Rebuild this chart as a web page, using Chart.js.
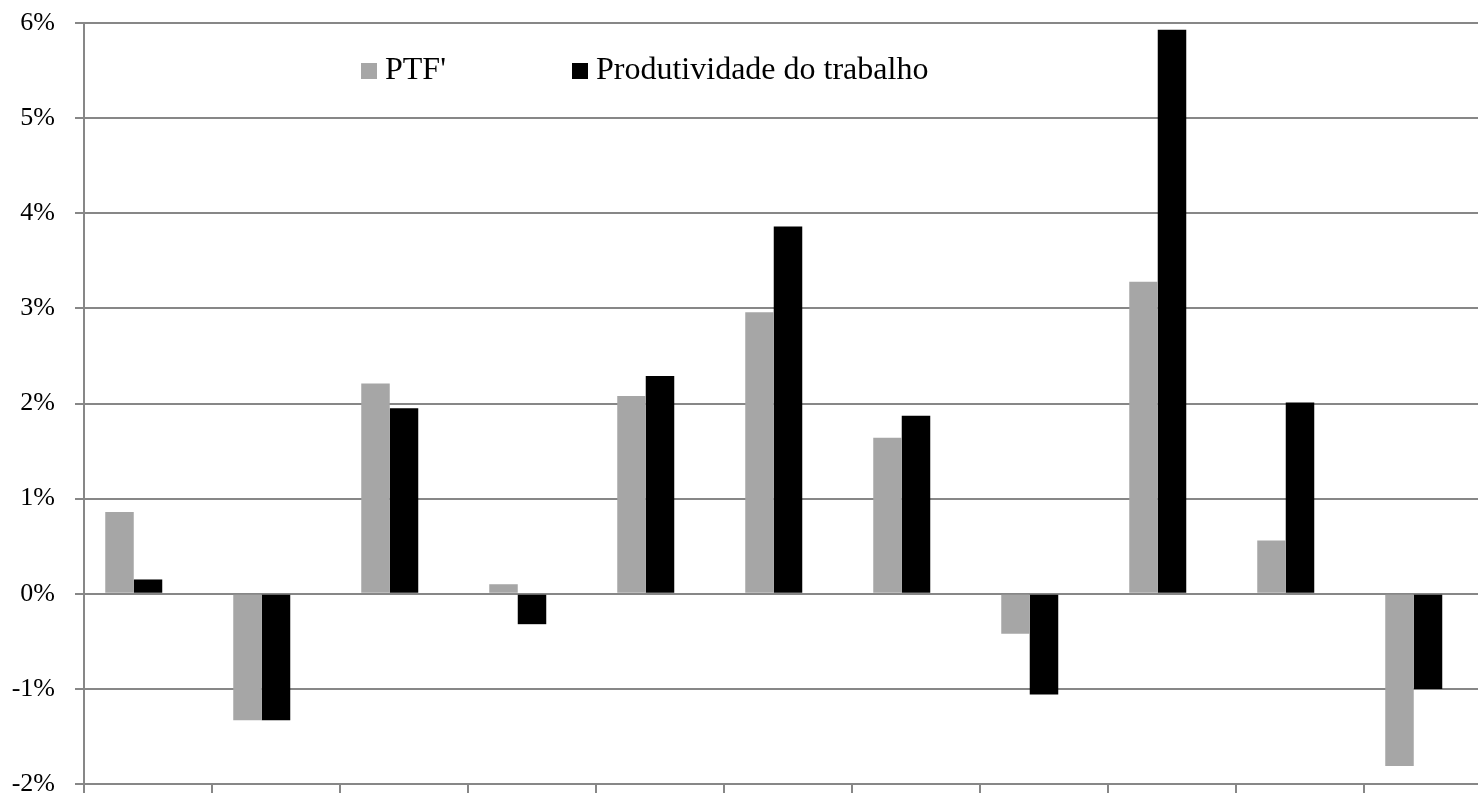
<!DOCTYPE html>
<html>
<head>
  <script src="https://cdn.jsdelivr.net/npm/chart.js"></script>
  <style>
    body { margin: 0; background: #fff; overflow: hidden; }
    #wrap { width: 1478px; height: 793px; overflow: hidden; }
  </style>
</head>
<body>
  <div id="wrap">
    <canvas id="prodChart" width="1492" height="793"></canvas>
  </div>
  <script>
// values in %
const categories = ['1', '2', '3', '4', '5', '6', '7', '8', '9', '10', '11'];
const ptf = [0.86, -1.33, 2.21, 0.10, 2.08, 2.96, 1.64, -0.42, 3.28, 0.56, -1.81];
const labourProd = [0.15, -1.33, 1.95, -0.32, 2.29, 3.86, 1.87, -1.06, 5.93, 2.01, -1.00];
const yTicks = [-2, -1, 0, 1, 2, 3, 4, 5, 6];

const gridGrey = '#878787';
const serif = "'Liberation Serif', 'Times New Roman', serif";

// legend drawn inside the plot, like the original
const innerLegend = {
  id: 'innerLegend',
  afterDraw(chart) {
    const ctx = chart.ctx;
    const left = chart.chartArea.left;
    const items = [
      { ds: chart.data.datasets[0], x: left + 277 },
      { ds: chart.data.datasets[1], x: left + 488 }
    ];
    ctx.save();
    ctx.font = '32px ' + serif;
    ctx.textBaseline = 'middle';
    ctx.textAlign = 'left';
    items.forEach(it => {
      ctx.fillStyle = it.ds.backgroundColor;
      ctx.fillRect(it.x, 63, 16, 16);
      ctx.fillStyle = '#000';
      ctx.fillText(it.ds.label, it.x + 24, 71);
    });
    ctx.restore();
  }
};

const ctx = document.getElementById('prodChart').getContext('2d');
new Chart(ctx, {
  type: 'bar',
  data: {
    labels: categories,
    datasets: [
      { label: "PTF'", data: ptf, backgroundColor: '#a6a6a6', borderWidth: 0 },
      { label: 'Produtividade do trabalho', data: labourProd, backgroundColor: '#000000', borderWidth: 0 },
      // empty third series keeps the Excel spacing
      { label: '', data: categories.map(() => null), backgroundColor: 'rgba(0,0,0,0)' }
    ]
  },
  options: {
    responsive: false,
    animation: false,
    devicePixelRatio: 1,
    layout: { padding: { top: 23, left: 0, right: 0, bottom: 0 } },
    datasets: { bar: { categoryPercentage: 0.668, barPercentage: 1 } },
    plugins: {
      legend: { display: false },
      tooltip: { enabled: false }
    },
    scales: {
      x: {
        offset: true,
        grid: {
          offset: true,
          drawOnChartArea: false,
          drawTicks: true,
          tickLength: 9,
          color: gridGrey,
          lineWidth: 2
        },
        border: { display: true, color: gridGrey, width: 2 },
        ticks: { display: false },
        afterFit(scale) { scale.height = 9; }
      },
      y: {
        min: -2,
        max: 6,
        afterBuildTicks(scale) { scale.ticks = yTicks.map(v => ({ value: v })); },
        ticks: {
          padding: 20,
          color: '#000',
          font: { family: serif, size: 26 },
          callback: v => v + '%'
        },
        grid: { color: gridGrey, lineWidth: 2, tickLength: 9 },
        border: { display: true, color: gridGrey, width: 2 },
        afterFit(scale) {
          scale.width = 84;
          scale.paddingTop = 0;
          scale.paddingBottom = 0;
        }
      }
    }
  },
  plugins: [innerLegend]
});
  </script>
</body>
</html>
